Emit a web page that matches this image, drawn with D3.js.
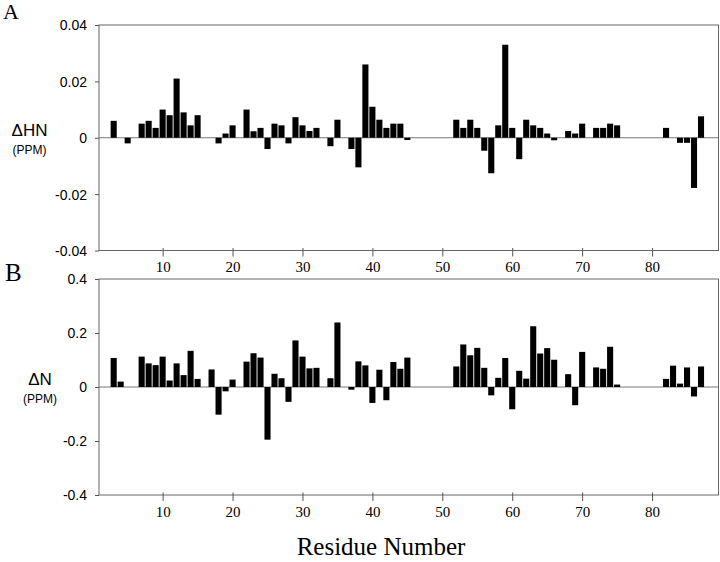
<!DOCTYPE html>
<html>
<head>
<meta charset="utf-8">
<script src="https://cdn.jsdelivr.net/npm/d3@7"></script>
<style>
  body { margin: 0; background: #fff; }
  .frame { fill: none; stroke: #666; stroke-width: 1; }
  .zeroLine { stroke: #777; stroke-width: 1; }
  .bar { fill: #000; }
  .yTickLabel { font-family: "Liberation Sans", Arial, sans-serif; font-size: 14px; fill: #000; }
  .xTickLabel { font-family: "Liberation Serif", "Times New Roman", serif; font-size: 15px; fill: #000; }
  .panelLetter { font-family: "Liberation Serif", "Times New Roman", serif; fill: #000; }
  .yLabel { font-family: "Liberation Sans", Arial, sans-serif; font-size: 17px; fill: #000; }
  .yUnit { font-family: "Liberation Sans", Arial, sans-serif; font-size: 12px; fill: #000; }
  .xTitle { font-family: "Liberation Serif", "Times New Roman", serif; font-size: 25px; fill: #000; }
  .axis path { display: none; }
  .axis line { stroke: #555; }
</style>
</head>
<body>
<div id="chart"></div>
<script>
const WIDTH = 720;
const HEIGHT = 562;

// Panel A: amide proton shift changes
const residuesHN = [3, 5, 7, 8, 9, 10, 11, 12, 13, 14, 15, 18, 19, 20, 22, 23, 24, 25, 26, 27, 28, 29, 30, 31, 32,
    34, 35, 37, 38, 39, 40, 41, 42, 43, 44, 45, 52, 53, 54, 55, 56, 57, 58, 59, 60, 61, 62, 63, 64, 65, 66,
    68, 69, 70, 72, 73, 74, 75, 82, 84, 85, 86, 87];
const deltaHN = [0.006, -0.002, 0.005, 0.006, 0.0035, 0.010, 0.008, 0.021, 0.009, 0.0044, 0.008, -0.002, 0.0015, 0.0044,
    0.010, 0.0023, 0.0035, -0.004, 0.005, 0.0044, -0.002, 0.0073, 0.0044, 0.0024, 0.0035,
    -0.003, 0.0064, -0.004, -0.0105, 0.026, 0.011, 0.0064, 0.0035, 0.005, 0.005, -0.0008,
    0.0064, 0.0035, 0.0064, 0.0035, -0.0046, -0.0126, 0.0044, 0.033, 0.0035, -0.0076, 0.0064, 0.0044, 0.0035, 0.0015, -0.0009,
    0.0024, 0.0015, 0.005, 0.0035, 0.0035, 0.005, 0.0044, 0.0035, -0.0018, -0.0018, -0.0178, 0.0076];

// Panel B: amide nitrogen shift changes
const residuesN = [3, 4, 7, 8, 9, 10, 11, 12, 13, 14, 15, 17, 18, 19, 20, 22, 23, 24, 25, 26, 27, 28, 29, 30, 31, 32,
    34, 35, 37, 38, 39, 40, 41, 42, 43, 44, 45, 52, 53, 54, 55, 56, 57, 58, 59, 60, 61, 62, 63, 64, 65, 66,
    68, 69, 70, 72, 73, 74, 75, 82, 83, 84, 85, 86, 87];
const deltaN = [0.1075, 0.02, 0.1125, 0.0875, 0.081, 0.1125, 0.024, 0.0875, 0.044, 0.134, 0.03, 0.065, -0.1025, -0.016, 0.0275,
    0.094, 0.125, 0.109, -0.195, 0.049, 0.0325, -0.055, 0.1725, 0.1125, 0.069, 0.071,
    0.0325, 0.239, -0.01, 0.095, 0.08, -0.059, 0.064, -0.049, 0.0925, 0.0675, 0.109,
    0.076, 0.1575, 0.1175, 0.145, 0.071, -0.031, 0.034, 0.1075, -0.0825, 0.06, 0.031, 0.225, 0.124, 0.144, 0.101,
    0.0475, -0.0675, 0.13, 0.0725, 0.0675, 0.149, 0.009, 0.03, 0.079, 0.0125, 0.0725, -0.035, 0.076];

const xTicks = [10, 20, 30, 40, 50, 60, 70, 80];
const yTicksHN = [0.04, 0.02, 0, -0.02, -0.04];
const yTicksN = [0.4, 0.2, 0, -0.2, -0.4];

const PLOT_LEFT = 99;
const PLOT_RIGHT = 718.5;

let svg = d3.select("#chart").append("svg")
    .attr("width", WIDTH)
    .attr("height", HEIGHT);

let xScale = d3.scaleLinear().domain([0.9, 89.5]).range([PLOT_LEFT, PLOT_RIGHT]);
const BAR_WIDTH = (xScale(2) - xScale(1)) * 0.87;

const drawPanel = (panel) => {
    let yScale = d3.scaleLinear().domain(panel.domain).range([panel.bottom, panel.top]);
    let g = svg.append("g");

    // zero line first so bars sit on top of it
    g.append("line")
        .attr("class", "zeroLine")
        .attr("x1", PLOT_LEFT).attr("x2", PLOT_RIGHT)
        .attr("y1", yScale(0)).attr("y2", yScale(0));

    g.selectAll("rect.bar")
        .data(panel.residues.map((r, i) => ({residue: r, value: panel.values[i]})))
        .join("rect")
        .attr("class", "bar")
        .attr("x", d => xScale(d.residue) - BAR_WIDTH / 2)
        .attr("width", BAR_WIDTH)
        .attr("y", d => yScale(Math.max(0, d.value)))
        .attr("height", d => Math.abs(yScale(d.value) - yScale(0)));

    g.append("rect")
        .attr("class", "frame")
        .attr("x", PLOT_LEFT).attr("y", panel.top)
        .attr("width", PLOT_RIGHT - PLOT_LEFT)
        .attr("height", panel.bottom - panel.top);

    // y axis: outward ticks
    let yAxis = d3.axisLeft(yScale)
        .tickValues(panel.yTicks)
        .tickSize(4)
        .tickPadding(8)
        .tickFormat(d => d === 0 ? "0" : String(d).replace("\u2212", "-"));
    let yg = g.append("g")
        .attr("class", "axis")
        .attr("transform", `translate(${PLOT_LEFT},0)`)
        .call(yAxis);
    yg.selectAll("text").attr("class", "yTickLabel").attr("dy", "0.35em");

    // x axis: ticks crossing the bottom frame
    let xAxis = d3.axisBottom(xScale)
        .tickValues(xTicks)
        .tickSizeInner(6)
        .tickSizeOuter(0)
        .tickPadding(5)
        .tickFormat(d3.format("d"));
    let xg = g.append("g")
        .attr("class", "axis")
        .attr("transform", `translate(0,${panel.bottom})`)
        .call(xAxis);
    xg.selectAll(".tick line").attr("y1", -2.5);
    xg.selectAll("text").attr("class", "xTickLabel");

    g.append("text")
        .attr("class", "panelLetter")
        .attr("x", panel.letterX).attr("y", panel.letterY)
        .style("font-size", panel.letterSize + "px")
        .text(panel.letter);

    g.append("text")
        .attr("class", "yLabel")
        .attr("x", panel.labelX).attr("y", panel.labelY)
        .attr("text-anchor", "middle")
        .text(panel.label);
    g.append("text")
        .attr("class", "yUnit")
        .attr("x", panel.labelX).attr("y", panel.labelY + 18)
        .attr("text-anchor", "middle")
        .text("(PPM)");
}

drawPanel({
    residues: residuesHN, values: deltaHN, domain: [-0.04, 0.04], yTicks: yTicksHN,
    top: 25, bottom: 250.5,
    letter: "A", letterX: 3, letterY: 19, letterSize: 22,
    label: "\u0394HN", labelX: 29.5, labelY: 136
});

drawPanel({
    residues: residuesN, values: deltaN, domain: [-0.4, 0.4], yTicks: yTicksN,
    top: 279, bottom: 495,
    letter: "B", letterX: 5, letterY: 281, letterSize: 25,
    label: "\u0394N", labelX: 40, labelY: 385
});

svg.append("text")
    .attr("class", "xTitle")
    .attr("x", (292 + 470) / 2)
    .attr("y", 555)
    .attr("text-anchor", "middle")
    .text("Residue Number");
</script>
</body>
</html>
